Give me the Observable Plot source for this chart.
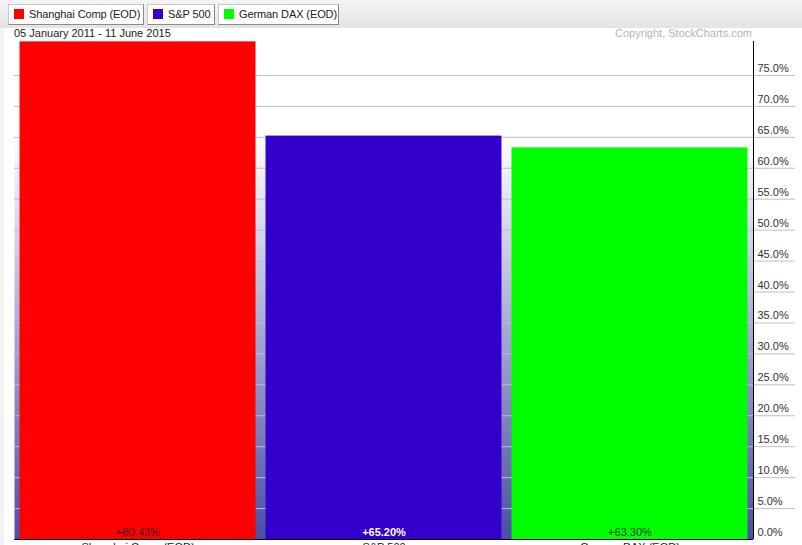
<!DOCTYPE html>
<html>
<head>
<meta charset="utf-8">
<script src="https://cdn.jsdelivr.net/npm/d3@7"></script>
<script src="https://cdn.jsdelivr.net/npm/@observablehq/plot@0.6"></script>
<style>
  html, body { margin: 0; padding: 0; background: #fff; overflow: hidden; width: 802px; height: 545px; font-family: "Liberation Sans", Arial, sans-serif; }
  #wrap { position: relative; width: 802px; height: 545px; }
  #header { position: absolute; left: 0; top: 0; width: 802px; height: 28px; background: linear-gradient(#f4f4f4, #e4e4e4); }
  .btn { position: absolute; top: 4px; background: #fff; border: 1px solid #c8c8c8; border-right-color: #8a8a8a; border-bottom-color: #8a8a8a; font-size: 11px; letter-spacing: -0.1px; line-height: 19px; color: #222; white-space: nowrap; overflow: visible; box-sizing: border-box; height: 21px; }
  .sw { display: inline-block; width: 10px; height: 10px; vertical-align: -1px; margin: 0 5px 0 5px; }
  #strip { position: absolute; left: 0; top: 28px; width: 4px; height: 517px; background: #f2f2f2; }
  #date { position: absolute; left: 14px; top: 27px; font-size: 11px; color: #222; }
  #copy { position: absolute; right: 50px; top: 27px; font-size: 11px; color: #b4b4b4; }
  #chart { position: absolute; left: 0; top: 27px; }
</style>
</head>
<body>
<div id="wrap">
  <div id="header"></div>
  <div id="legend"></div>
  <div id="strip"></div>
  <div id="chart"></div>
  <div id="date"></div>
  <div id="copy">Copyright, StockCharts.com</div>
</div>
<script>
const names = ["Shanghai Comp (EOD)", "S&P 500", "German DAX (EOD)"];
const values = [80.43, 65.20, 63.30];
const colors = ["#ff0000", "#3300cc", "#00ff00"];
const labelColors = ["#3a1010", "#ffffff", "#1a3a1a"];
const boldLabel = [false, true, false];
const legendLefts = [8, 147, 218];
const legendWidths = [136, 68, 121];
const yTicks = [0, 5, 10, 15, 20, 25, 30, 35, 40, 45, 50, 55, 60, 65, 70, 75];
const dateRange = "05 January 2011 - 11 June 2015";

document.getElementById("date").textContent = dateRange;

const legend = document.getElementById("legend");
names.forEach((n, i) => {
  const b = document.createElement("div");
  b.className = "btn";
  b.style.left = legendLefts[i] + "px";
  b.style.width = legendWidths[i] + "px";
  b.innerHTML = `<span class="sw" style="background:${colors[i]}"></span>`;
  b.appendChild(document.createTextNode(n));
  legend.appendChild(b);
});

const data = names.map((n, i) => ({name: n, value: values[i], color: colors[i], lc: labelColors[i], bold: boldLabel[i], label: "+" + values[i].toFixed(2) + "%"}));

const rightAxisLine = (index, scales, values, dim) => {
  const x = dim.width - dim.marginRight + 0.5;
  const line = document.createElementNS("http://www.w3.org/2000/svg", "line");
  line.setAttribute("x1", x); line.setAttribute("x2", x);
  line.setAttribute("y1", dim.height - dim.marginBottom); line.setAttribute("y2", dim.marginTop + 1);
  line.setAttribute("stroke", "#000"); line.setAttribute("stroke-width", 1);
  line.setAttribute("shape-rendering", "crispEdges");
  return line;
};

const chart = Plot.plot({
  width: 802,
  height: 540,
  marginTop: 13,
  marginBottom: 28,
  marginLeft: 14,
  marginRight: 49,
  style: {background: "transparent", fontFamily: "Liberation Sans, Arial, sans-serif", fontSize: "11px", overflow: "visible"},
  x: {domain: names, paddingInner: 0.0407, paddingOuter: 0.0225, round: false, label: null},
  y: {domain: [0, 80.65], label: null},
  axis: null,
  marks: [
    Plot.frame({fill: "url(#bggrad)", stroke: null}),
    Plot.ruleY(yTicks.filter(d => d > 0), {stroke: "#c0c0c0", strokeWidth: 1, insetRight: -42}),
    Plot.barY(data, {x: "name", y: "value", fill: "color"}),
    Plot.text(data.filter(d => !d.bold), {x: "name", y: 0, text: "label", fill: "lc", lineAnchor: "bottom", dy: -4, fontSize: 11}),
    Plot.text(data.filter(d => d.bold), {x: "name", y: 0, text: "label", fill: "lc", fontWeight: "bold", lineAnchor: "bottom", dy: -4, fontSize: 11}),
    Plot.axisY({anchor: "right", ticks: yTicks, tickFormat: d => d.toFixed(1) + "%", tickSize: 0, tickPadding: 4, dy: -7, label: null, fill: "#333", fontSize: 11}),
    Plot.axisX({anchor: "bottom", tickSize: 0, tickPadding: 4, label: null, fill: "#222", fontSize: 11}),
    rightAxisLine,
    Plot.ruleY([0], {stroke: "#000", strokeWidth: 1.2})
  ]
});

const svg = d3.select(chart);
const defs = svg.insert("defs", ":first-child");
const g = defs.append("linearGradient").attr("id", "bggrad").attr("x1", 0).attr("y1", 0).attr("x2", 0).attr("y2", 1);
g.append("stop").attr("offset", "0%").attr("stop-color", "#ffffff");
g.append("stop").attr("offset", "19%").attr("stop-color", "#ffffff");
g.append("stop").attr("offset", "100%").attr("stop-color", "#4c4ca6");

document.getElementById("chart").appendChild(chart);
</script>
</body>
</html>
